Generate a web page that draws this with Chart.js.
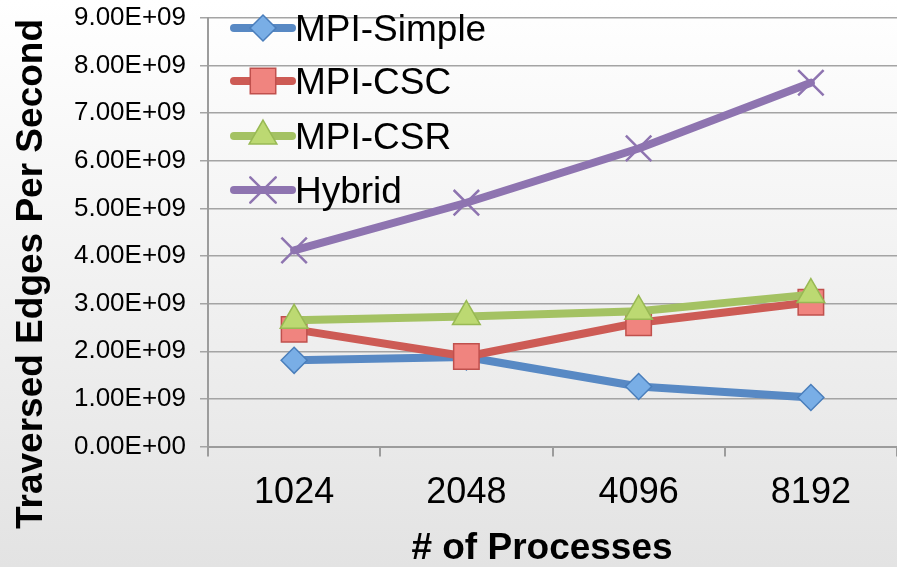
<!DOCTYPE html>
<html>
<head>
<meta charset="utf-8">
<script src="https://cdn.jsdelivr.net/npm/chart.js@4.4.1/dist/chart.umd.min.js"></script>
<style>
  html, body { margin: 0; padding: 0; background: #ffffff; }
  #wrap { width: 897px; height: 567px; position: relative; }
</style>
</head>
<body>
<div id="wrap"><canvas id="chart" width="897" height="567"></canvas></div>
<script>
// Process counts on the x axis
const categories = ['1024', '2048', '4096', '8192'];

// Traversed edges per second for each implementation
const mpiSimple = [1.81e9, 1.88e9, 1.26e9, 1.03e9];
const mpiCSC    = [2.46e9, 1.89e9, 2.60e9, 3.03e9];
const mpiCSR    = [2.65e9, 2.73e9, 2.84e9, 3.19e9];
const hybrid    = [4.12e9, 5.12e9, 6.26e9, 7.64e9];

const seriesNames = ['MPI-Simple', 'MPI-CSC', 'MPI-CSR', 'Hybrid'];

// y range and step of the value axis
const yMin = 0;
const yMax = 9e9;
const yStep = 1e9;

const xTitle = '# of Processes';
const yTitle = 'Traversed Edges Per Second';

// Spreadsheet-style scientific notation: 9.00E+09
function sci(v) {
  if (Math.abs(v) < 1e-9) return '0.00E+00';
  const e = Math.floor(Math.log10(Math.abs(v)) + 1e-12);
  const m = v / Math.pow(10, e);
  return m.toFixed(2) + 'E' + (e >= 0 ? '+' : '-') + String(Math.abs(e)).padStart(2, '0');
}

const FONT = '"Liberation Sans", Arial, Helvetica, sans-serif';

// Soft vertical wash behind the whole chart
const backgroundPlugin = {
  id: 'bgWash',
  beforeDraw(chart) {
    const { ctx, width, height } = chart;
    const g = ctx.createLinearGradient(0, 0, 0, height);
    g.addColorStop(0, '#ffffff');
    g.addColorStop(1, '#e3e3e3');
    ctx.save();
    ctx.fillStyle = g;
    ctx.fillRect(0, 0, width, height);
    ctx.restore();
  }
};

// Axis titles, placed around the plot
const axisTitlePlugin = {
  id: 'axisTitles',
  afterDraw(chart) {
    const { ctx } = chart;
    ctx.save();
    ctx.fillStyle = '#000000';
    ctx.font = 'bold 37px ' + FONT;
    ctx.textAlign = 'center';
    ctx.textBaseline = 'middle';
    ctx.fillText(xTitle, 542, 549);
    ctx.translate(32, 274);
    ctx.rotate(-Math.PI / 2);
    ctx.fillText(yTitle, 0, 0);
    ctx.restore();
  }
};

// Legend drawn inside the plot: line stroke with the series marker on it
const insideLegendPlugin = {
  id: 'insideLegend',
  afterDatasetsDraw(chart) {
    const { ctx } = chart;
    const rows = [28, 81, 136, 190];
    const x0 = 234, x1 = 292, xm = 263, xt = 295;
    ctx.save();
    chart.data.datasets.forEach((ds, i) => {
      const y = rows[i];
      ctx.strokeStyle = ds.borderColor;
      ctx.lineWidth = ds.borderWidth;
      ctx.lineCap = 'round';
      ctx.beginPath();
      ctx.moveTo(x0, y);
      ctx.lineTo(x1, y);
      ctx.stroke();
      ctx.fillStyle = ds.pointBackgroundColor;
      ctx.strokeStyle = ds.pointBorderColor;
      ctx.lineWidth = ds.pointBorderWidth;
      Chart.helpers.drawPoint(ctx, {
        pointStyle: ds.pointStyle,
        radius: ds.pointRadius,
        rotation: 0,
        borderWidth: ds.pointBorderWidth
      }, xm, y);
      ctx.fillStyle = '#000000';
      ctx.font = '37px ' + FONT;
      ctx.textAlign = 'left';
      ctx.textBaseline = 'middle';
      ctx.fillText(ds.label, xt, y + 3);
    });
    ctx.restore();
  }
};

const datasets = [
  {
    label: seriesNames[0], data: mpiSimple, order: 4,
    borderColor: '#5889c4', borderWidth: 8,
    pointStyle: 'rectRot', pointRadius: 13,
    pointBackgroundColor: '#79aee6', pointBorderColor: '#4a7ebb', pointBorderWidth: 1.5
  },
  {
    label: seriesNames[1], data: mpiCSC, order: 3,
    borderColor: '#cd5b55', borderWidth: 8,
    pointStyle: 'rect', pointRadius: 18,
    pointBackgroundColor: '#f0847f', pointBorderColor: '#c0504d', pointBorderWidth: 1.5
  },
  {
    label: seriesNames[2], data: mpiCSR, order: 2,
    borderColor: '#a4c263', borderWidth: 8,
    pointStyle: 'triangle', pointRadius: 16,
    pointBackgroundColor: '#bcd972', pointBorderColor: '#98b954', pointBorderWidth: 1.5
  },
  {
    label: seriesNames[3], data: hybrid, order: 1,
    borderColor: '#8e74b0', borderWidth: 8,
    pointStyle: 'crossRot', pointRadius: 18,
    pointBackgroundColor: '#8e74b0', pointBorderColor: '#8e74b0', pointBorderWidth: 2.5
  }
];

// Keep the plot box fixed: no extra label padding around the axes
function noPad(scale) {
  scale.paddingLeft = 0;
  scale.paddingRight = 0;
  scale.paddingTop = 0;
  scale.paddingBottom = 0;
}

new Chart(document.getElementById('chart'), {
  type: 'line',
  data: { labels: categories, datasets },
  plugins: [backgroundPlugin, axisTitlePlugin, insideLegendPlugin],
  options: {
    responsive: false,
    animation: false,
    devicePixelRatio: 1,
    layout: { autoPadding: false, padding: { top: 18, right: 0, bottom: 0, left: 0 } },
    elements: { line: { tension: 0, borderCapStyle: 'round', borderJoinStyle: 'round' } },
    plugins: { legend: { display: false }, tooltip: { enabled: false } },
    scales: {
      x: {
        type: 'category',
        offset: true,
        grid: { offset: true, drawOnChartArea: false, drawTicks: true, tickLength: 10, color: '#9c9c9c', lineWidth: 2 },
        border: { display: true, color: '#9c9c9c', width: 2 },
        ticks: { color: '#000000', font: { family: FONT, size: 36 }, padding: 15, maxRotation: 0 },
        afterFit(scale) { scale.height = 120.5; noPad(scale); }
      },
      y: {
        min: yMin, max: yMax,
        grid: { color: '#a4a4a4', lineWidth: 1.5, drawTicks: true, tickLength: 8 },
        border: { display: true, color: '#9c9c9c', width: 2 },
        ticks: {
          stepSize: yStep, color: '#000000',
          font: { family: FONT, size: 26 }, padding: 14,
          callback: (v) => sci(v)
        },
        afterFit(scale) { scale.width = 208; noPad(scale); }
      }
    }
  }
});
</script>
</body>
</html>
